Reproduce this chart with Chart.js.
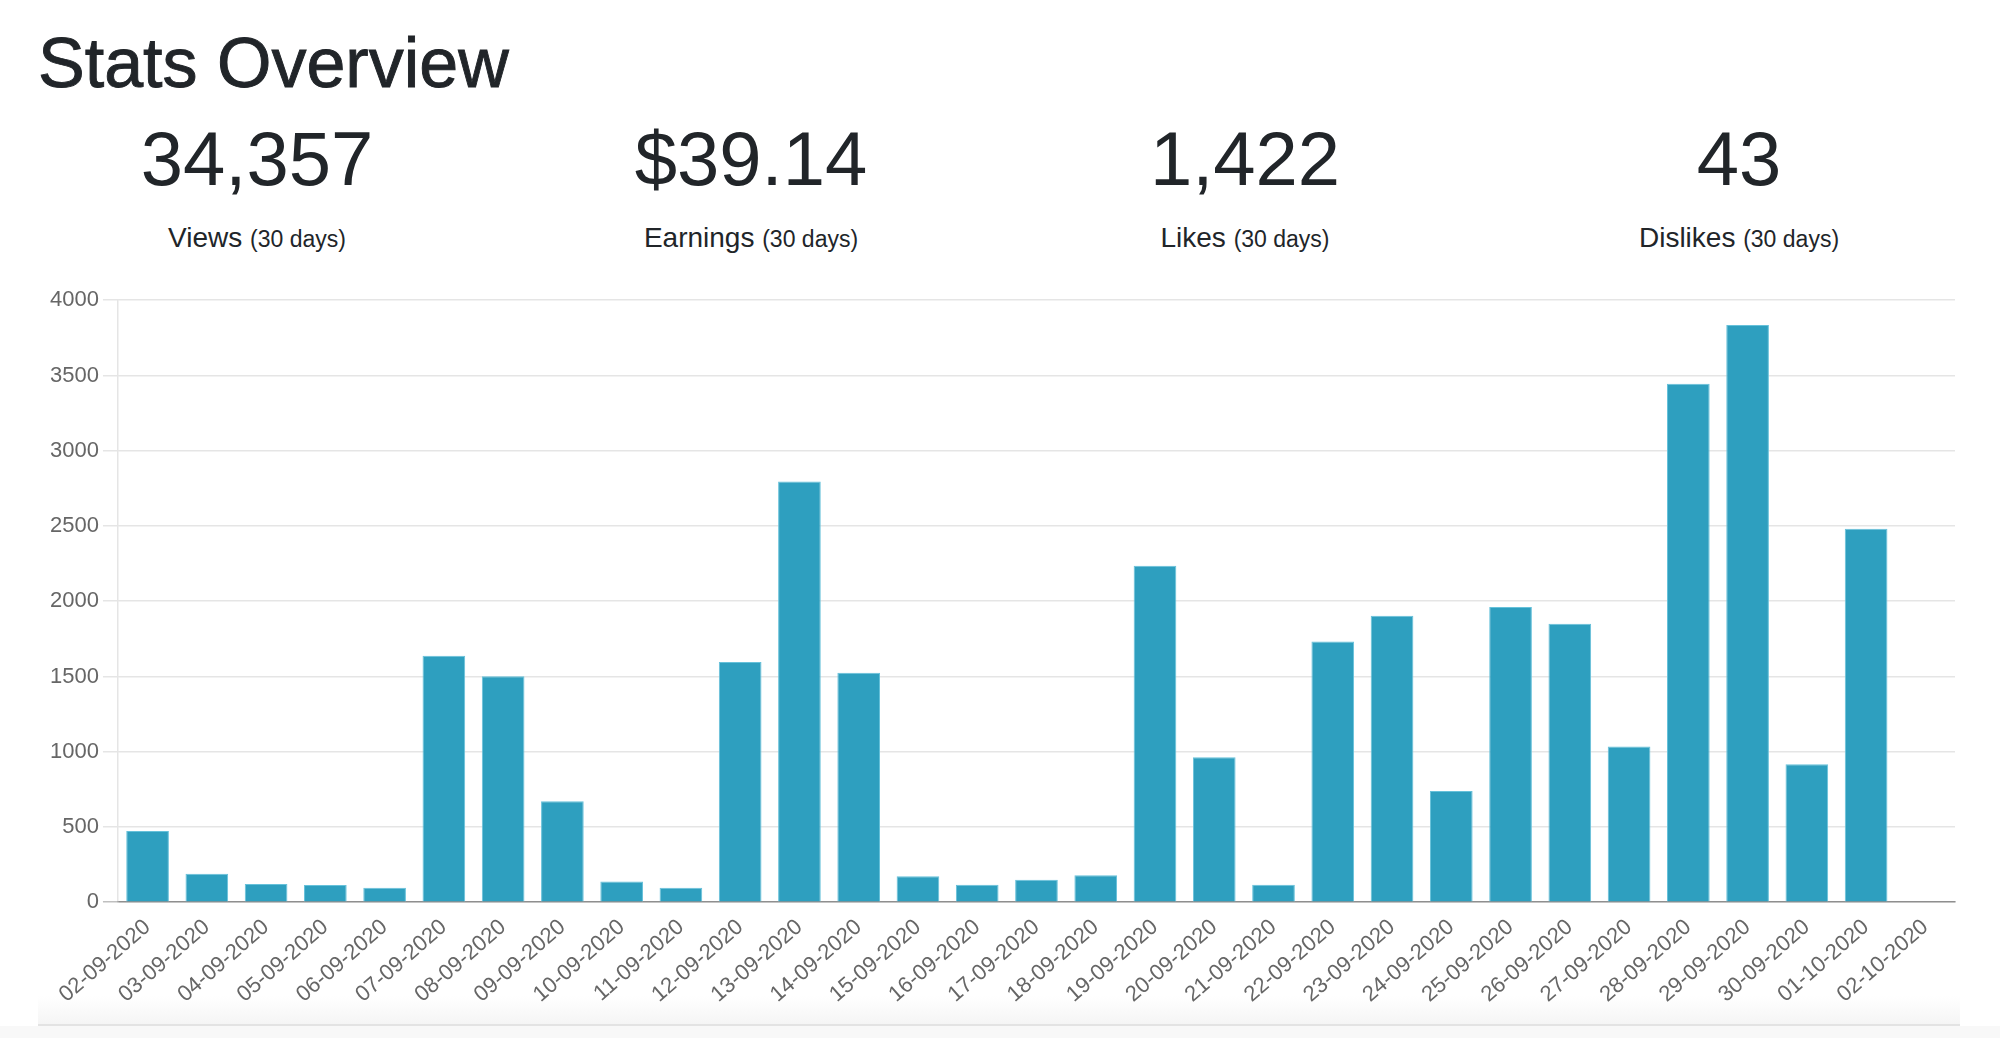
<!DOCTYPE html>
<html>
<head>
<meta charset="utf-8">
<script src="https://cdn.jsdelivr.net/npm/chart.js@4/dist/chart.umd.min.js"></script>
<style>
  html, body { margin: 0; padding: 0; background: #fff; }
  body { width: 2000px; height: 1038px; position: relative; overflow: hidden;
         font-family: 'Liberation Sans', Arial, sans-serif; color: #212529; }
  h1 { position: absolute; left: 38px; top: 28px; margin: 0; font-size: 70px; line-height: 70px; font-weight: 500;
       -webkit-text-stroke: 0.9px #212529; }
  .stat { position: absolute; width: 494px; text-align: center; }
  .stat .num { position: absolute; left: 0; right: 0; top: 121px; font-size: 76px; line-height: 76px; }
  .stat .lbl { position: absolute; left: 0; right: 0; top: 224px; font-size: 28px; line-height: 28px; }
  .stat .lbl small { font-size: 23px; }
  #wrap { position: absolute; left: 38px; top: 283px; width: 1922px; height: 737px; }
  #fade { position: absolute; left: 38px; width: 1922px; top: 996px; height: 28px;
          background: linear-gradient(#fff, #f5f5f5); }
  #rule { position: absolute; left: 38px; width: 1922px; top: 1024px; height: 2px; background: #e3e3e3; }
  #below { position: absolute; left: 0; width: 2000px; top: 1026px; height: 12px; background: #f8f8f8; }
</style>
</head>
<body>
<h1>Stats Overview</h1>
<div id="stats"></div>
<div id="fade"></div>
<div id="rule"></div>
<div id="below"></div>
<div id="wrap"><canvas id="barChart"></canvas></div>
<script>
// headline numbers
const statNames = ['Views', 'Earnings', 'Likes', 'Dislikes'];
const statValues = ['34,357', '$39.14', '1,422', '43'];

// daily views, last 30 days
const days = [
  '02-09-2020', '03-09-2020', '04-09-2020', '05-09-2020', '06-09-2020', '07-09-2020',
  '08-09-2020', '09-09-2020', '10-09-2020', '11-09-2020', '12-09-2020', '13-09-2020',
  '14-09-2020', '15-09-2020', '16-09-2020', '17-09-2020', '18-09-2020', '19-09-2020',
  '20-09-2020', '21-09-2020', '22-09-2020', '23-09-2020', '24-09-2020', '25-09-2020',
  '26-09-2020', '27-09-2020', '28-09-2020', '29-09-2020', '30-09-2020', '01-10-2020',
  '02-10-2020'
];
const views = [
  474, 189, 122, 114, 97, 1637, 1502, 671, 138, 97, 1597, 2796,
  1524, 173, 116, 149, 179, 2235, 963, 116, 1732, 1903, 739, 1962,
  1851, 1034, 3445, 3835, 917, 2482, null
];

const stats = document.getElementById('stats');
statNames.forEach((name, i) => {
  const el = document.createElement('div');
  el.className = 'stat';
  el.style.left = (10 + i * 494) + 'px';
  el.innerHTML = '<div class="num">' + statValues[i] + '</div>' +
    '<div class="lbl">' + name + ' <small>(30 days)</small></div>';
  stats.appendChild(el);
});

Chart.defaults.font.family = "'Liberation Sans', Arial, sans-serif";
Chart.defaults.font.size = 22;
Chart.defaults.color = '#666';

new Chart(document.getElementById('barChart').getContext('2d'), {
  type: 'bar',
  data: {
    labels: days,
    datasets: [{
      label: 'Views',
      data: views,
      backgroundColor: '#2e9fbf',
      borderColor: '#66c1da',
      borderWidth: 1
    }]
  },
  options: {
    responsive: true,
    maintainAspectRatio: false,
    animation: false,
    layout: { padding: { left: 8, right: 5 } },
    plugins: { legend: { display: false }, tooltip: { enabled: false } },
    scales: {
      x: {
        grid: { display: true, drawOnChartArea: false, drawTicks: false },
        border: { color: 'rgba(0,0,0,0.25)', width: 1.5 },
        ticks: { minRotation: 41, maxRotation: 41, padding: 12, autoSkip: false }
      },
      y: {
        min: 0,
        max: 4000,
        ticks: { stepSize: 500, padding: 4, callback: v => String(v) },
        grid: {
          color: ctx => ctx.tick && ctx.tick.value === 0 ? 'rgba(0,0,0,0.25)' : 'rgba(0,0,0,0.1)',
          lineWidth: 1.5,
          tickLength: 15
        },
        border: { color: 'rgba(0,0,0,0.1)', width: 1.5 }
      }
    }
  }
});
</script>
</body>
</html>
